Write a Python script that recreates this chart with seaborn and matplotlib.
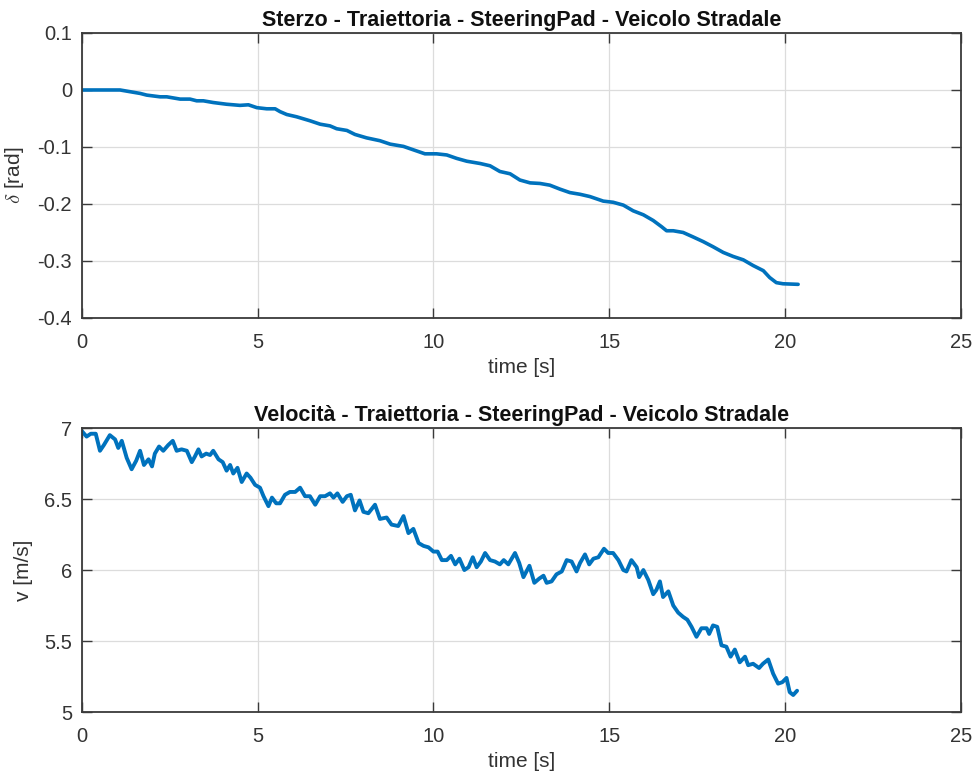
import numpy as np
import pandas as pd
import matplotlib
matplotlib.use("Agg")
import matplotlib.pyplot as plt
import seaborn as sns

# Steering angle delta [rad] versus time [s]
t_steer = [0.0, 1.09, 1.47, 1.66, 1.85, 2.23, 2.42, 2.8, 3.08, 3.27, 3.46, 3.74,
           4.12, 4.5, 4.74, 4.98, 5.26, 5.5, 5.64, 5.83, 6.11, 6.49, 6.78, 7.06,
           7.25, 7.54, 7.77, 8.1, 8.48, 8.77, 9.15, 9.43, 9.76, 10.09, 10.38,
           10.66, 10.95, 11.33, 11.61, 11.89, 12.18, 12.46, 12.75, 13.03, 13.31,
           13.6, 13.88, 14.17, 14.45, 14.83, 15.11, 15.4, 15.68, 15.97, 16.25,
           16.49, 16.63, 16.82, 17.1, 17.39, 17.67, 17.95, 18.24, 18.52, 18.81,
           19.09, 19.38, 19.56, 19.75, 19.94, 20.37]
delta = [0.0, 0.0, -0.004, -0.006, -0.009, -0.012, -0.012, -0.016, -0.016, -0.019,
         -0.019, -0.022, -0.025, -0.027, -0.026, -0.031, -0.033, -0.033, -0.038,
         -0.043, -0.047, -0.054, -0.060, -0.063, -0.068, -0.071, -0.078, -0.084,
         -0.089, -0.095, -0.099, -0.105, -0.112, -0.112, -0.114, -0.120, -0.125,
         -0.129, -0.133, -0.143, -0.147, -0.158, -0.163, -0.164, -0.167, -0.174,
         -0.180, -0.183, -0.187, -0.195, -0.197, -0.202, -0.212, -0.219, -0.229,
         -0.240, -0.247, -0.247, -0.250, -0.258, -0.266, -0.275, -0.285, -0.292,
         -0.298, -0.308, -0.317, -0.329, -0.338, -0.340, -0.341]

# Vehicle speed v [m/s] versus time [s]
t_speed = [0.0, 0.14, 0.26, 0.4, 0.52, 0.63, 0.8, 0.95, 1.04, 1.14, 1.28, 1.42,
           1.55, 1.66, 1.77, 1.9, 2.0, 2.08, 2.2, 2.32, 2.46, 2.59, 2.7, 2.84,
           2.99, 3.13, 3.22, 3.32, 3.41, 3.54, 3.65, 3.74, 3.89, 4.01, 4.12, 4.22,
           4.31, 4.43, 4.55, 4.69, 4.8, 4.93, 5.07, 5.17, 5.31, 5.41, 5.53, 5.64,
           5.78, 5.92, 6.07, 6.21, 6.35, 6.49, 6.64, 6.78, 6.92, 7.06, 7.16, 7.27,
           7.42, 7.54, 7.65, 7.77, 7.9, 8.01, 8.15, 8.34, 8.48, 8.67, 8.81, 9.0,
           9.15, 9.29, 9.43, 9.58, 9.72, 9.86, 10.0, 10.12, 10.24, 10.38, 10.5,
           10.62, 10.74, 10.88, 11.0, 11.12, 11.23, 11.35, 11.47, 11.61, 11.75,
           11.89, 12.0, 12.13, 12.32, 12.44, 12.56, 12.73, 12.87, 13.01, 13.13,
           13.22, 13.36, 13.5, 13.65, 13.79, 13.93, 14.07, 14.17, 14.31, 14.43,
           14.55, 14.69, 14.85, 14.97, 15.11, 15.26, 15.4, 15.49, 15.63, 15.78,
           15.85, 15.97, 16.11, 16.25, 16.34, 16.44, 16.53, 16.68, 16.82, 16.96,
           17.1, 17.22, 17.34, 17.48, 17.62, 17.77, 17.84, 17.95, 18.07, 18.19,
           18.33, 18.45, 18.57, 18.71, 18.86, 18.95, 19.09, 19.26, 19.37, 19.52,
           19.66, 19.8, 19.92, 20.04, 20.13, 20.23, 20.34]
speed = [6.98, 6.94, 6.96, 6.96, 6.84, 6.88, 6.95, 6.92, 6.86, 6.91, 6.79, 6.71,
         6.77, 6.84, 6.74, 6.78, 6.73, 6.82, 6.87, 6.84, 6.88, 6.91, 6.84, 6.85,
         6.84, 6.76, 6.80, 6.85, 6.80, 6.82, 6.81, 6.84, 6.78, 6.76, 6.70, 6.74,
         6.68, 6.72, 6.62, 6.68, 6.65, 6.60, 6.58, 6.52, 6.45, 6.51, 6.47, 6.47,
         6.53, 6.55, 6.55, 6.58, 6.52, 6.52, 6.46, 6.52, 6.52, 6.54, 6.51, 6.54,
         6.48, 6.52, 6.53, 6.42, 6.49, 6.41, 6.40, 6.46, 6.36, 6.37, 6.32, 6.31,
         6.38, 6.26, 6.29, 6.19, 6.17, 6.16, 6.13, 6.13, 6.07, 6.07, 6.10, 6.04,
         6.08, 6.00, 6.02, 6.09, 6.02, 6.06, 6.12, 6.07, 6.06, 6.04, 6.07, 6.04,
         6.12, 6.05, 5.95, 6.03, 5.91, 5.94, 5.96, 5.91, 5.92, 5.97, 5.99, 6.07,
         6.06, 5.99, 6.05, 6.11, 6.04, 6.08, 6.09, 6.15, 6.12, 6.12, 6.07, 6.00,
         5.99, 6.07, 6.02, 5.95, 6.00, 5.93, 5.83, 5.86, 5.92, 5.81, 5.85, 5.75,
         5.70, 5.67, 5.65, 5.60, 5.53, 5.59, 5.59, 5.55, 5.61, 5.60, 5.47, 5.46,
         5.39, 5.44, 5.35, 5.39, 5.33, 5.34, 5.31, 5.34, 5.37, 5.27, 5.20, 5.21,
         5.24, 5.14, 5.12, 5.15]

x_ticks = [0, 5, 10, 15, 20, 25]
steer_ticks = [-0.4, -0.3, -0.2, -0.1, 0, 0.1]
steer_labels = ["-0.4", "-0.3", "-0.2", "-0.1", "0", "0.1"]
speed_ticks = [5, 5.5, 6, 6.5, 7]
speed_labels = ["5", "5.5", "6", "6.5", "7"]

title_steer = "Sterzo - Traiettoria - SteeringPad - Veicolo Stradale"
title_speed = "Velocità - Traiettoria - SteeringPad - Veicolo Stradale"

sns.set_theme(style="whitegrid")
plt.rcParams["font.family"] = ["Liberation Sans", "DejaVu Sans"]
plt.rcParams["mathtext.fontset"] = "cm"

LINE = "#0072BD"
TXT = "#333333"
EDGE = "#3a3a3a"

fig = plt.figure(figsize=(9.77, 7.78), dpi=100, facecolor="white")
ax1 = fig.add_axes([0.0836, 0.5913, 0.9000, 0.3663])
ax2 = fig.add_axes([0.0836, 0.0848, 0.9000, 0.3650])

df_steer = pd.DataFrame({"t": t_steer, "delta": delta})
df_speed = pd.DataFrame({"t": t_speed, "v": speed})

sns.lineplot(data=df_steer, x="t", y="delta", ax=ax1, color=LINE, linewidth=2.6,
             sort=False, estimator=None)
sns.lineplot(data=df_speed, x="t", y="v", ax=ax2, color=LINE, linewidth=2.8,
             sort=False, estimator=None)


def style_axes(ax, yticks, ylabels, ylim, ylabel, title):
    ax.set_facecolor("white")
    ax.set_xlim(0, 25)
    ax.set_ylim(*ylim)
    ax.set_xticks(x_ticks)
    ax.set_xticklabels([str(v) for v in x_ticks])
    ax.set_yticks(yticks)
    ax.set_yticklabels(ylabels)
    ax.grid(True, color="#dcdcdc", linewidth=0.9)
    for s in ax.spines.values():
        s.set_visible(True)
        s.set_color(EDGE)
        s.set_linewidth(1.3)
    ax.tick_params(axis="both", which="major", direction="in", length=7,
                   width=1.0, color=EDGE, labelsize=14.5, labelcolor=TXT,
                   top=True, right=True, bottom=True, left=True)
    ax.tick_params(axis="x", pad=11)
    ax.tick_params(axis="y", pad=7)
    ax.set_xlabel("time [s]", fontsize=15, color=TXT, labelpad=4)
    ax.set_ylabel(ylabel, fontsize=15, color=TXT, labelpad=8)
    ax.set_title(title, fontsize=15.5, fontweight="bold", color="#101010", pad=5)


style_axes(ax1, steer_ticks, steer_labels, (-0.4, 0.1), r"$\delta$ [rad]", title_steer)
style_axes(ax2, speed_ticks, speed_labels, (5, 7), "v [m/s]", title_speed)

fig.savefig("out.png", dpi=100, facecolor="white")
